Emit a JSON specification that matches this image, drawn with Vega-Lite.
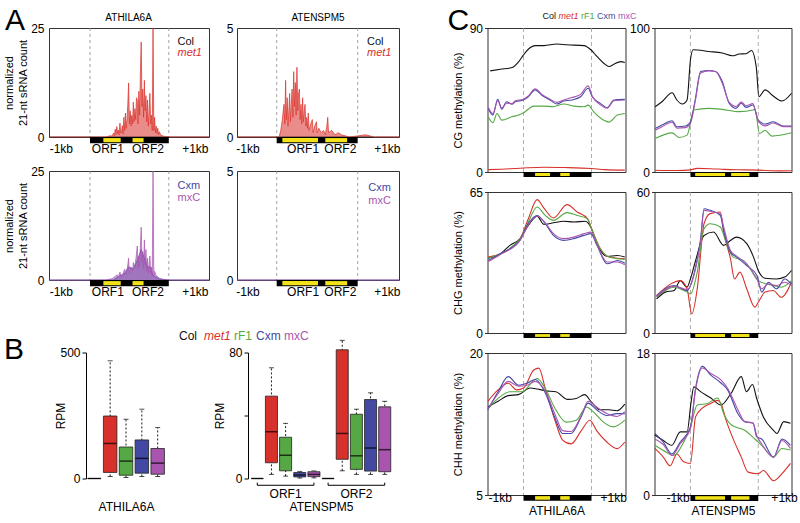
{
"$schema":"https://vega.github.io/schema/vega-lite/v6.json",
"background":"white",
"padding":{"left":3,"top":0,"right":5,"bottom":5},
"spacing":45.5,
"config":{"font":"Liberation Sans","view":{"stroke":"#333","strokeWidth":1},"axis":{"labelColor":"#000","titleColor":"#000","labelOverlap":false},"title":{"color":"#000"}},
"hconcat":[
{"vconcat":[
 {"vconcat":[
  {"hconcat":[
   {"width":160,"height":109,
    "layer":[
     {"data":{"values":[{"b":0},{"b":1}]},"mark":{"type":"rule","color":"#8a8a8a","strokeDash":[3,3],"strokeWidth":0.8},"encoding":{"x":{"field":"b","type":"quantitative"}}},
     {"data":{"values":[
{"g":"Col","x":-0.52,"v":0},{"g":"Col","x":1.51,"v":0},
{"g":"met1","x":-0.52,"v":0},{"g":"met1","x":0.2,"v":0},{"g":"met1","x":0.26,"v":0.3},{"g":"met1","x":0.28,"v":0.2},{"g":"met1","x":0.3,"v":0.9},{"g":"met1","x":0.31,"v":0.3},{"g":"met1","x":0.32,"v":1.8},{"g":"met1","x":0.33,"v":0.6},{"g":"met1","x":0.34,"v":2.4},{"g":"met1","x":0.35,"v":0.8},{"g":"met1","x":0.36,"v":1.6},{"g":"met1","x":0.37,"v":0.5},{"g":"met1","x":0.38,"v":3.2},{"g":"met1","x":0.39,"v":0.9},{"g":"met1","x":0.4,"v":1.2},{"g":"met1","x":0.41,"v":2.6},{"g":"met1","x":0.42,"v":0.7},{"g":"met1","x":0.43,"v":4.5},{"g":"met1","x":0.44,"v":1.5},{"g":"met1","x":0.45,"v":5.5},{"g":"met1","x":0.46,"v":2},{"g":"met1","x":0.47,"v":4},{"g":"met1","x":0.48,"v":7.5},{"g":"met1","x":0.49,"v":12.4},{"g":"met1","x":0.5,"v":3},{"g":"met1","x":0.51,"v":6},{"g":"met1","x":0.52,"v":2.5},{"g":"met1","x":0.53,"v":5},{"g":"met1","x":0.54,"v":3},{"g":"met1","x":0.55,"v":8},{"g":"met1","x":0.56,"v":3.5},{"g":"met1","x":0.57,"v":6.5},{"g":"met1","x":0.58,"v":4},{"g":"met1","x":0.59,"v":9},{"g":"met1","x":0.6,"v":8.5},{"g":"met1","x":0.61,"v":3},{"g":"met1","x":0.62,"v":10.5},{"g":"met1","x":0.63,"v":5},{"g":"met1","x":0.64,"v":15},{"g":"met1","x":0.65,"v":21.8},{"g":"met1","x":0.66,"v":7},{"g":"met1","x":0.67,"v":11},{"g":"met1","x":0.68,"v":4.5},{"g":"met1","x":0.69,"v":13},{"g":"met1","x":0.7,"v":6},{"g":"met1","x":0.71,"v":9.5},{"g":"met1","x":0.72,"v":3.5},{"g":"met1","x":0.73,"v":8.5},{"g":"met1","x":0.74,"v":2.5},{"g":"met1","x":0.75,"v":6},{"g":"met1","x":0.76,"v":10},{"g":"met1","x":0.77,"v":3},{"g":"met1","x":0.78,"v":5},{"g":"met1","x":0.79,"v":1.5},{"g":"met1","x":0.8,"v":25},{"g":"met1","x":0.81,"v":1.5},{"g":"met1","x":0.82,"v":4.5},{"g":"met1","x":0.83,"v":1},{"g":"met1","x":0.84,"v":2.5},{"g":"met1","x":0.85,"v":0.8},{"g":"met1","x":0.86,"v":2},{"g":"met1","x":0.87,"v":0.5},{"g":"met1","x":0.88,"v":1.2},{"g":"met1","x":0.9,"v":0.4},{"g":"met1","x":0.93,"v":0.2},{"g":"met1","x":0.97,"v":0.1},{"g":"met1","x":1,"v":0},{"g":"met1","x":1.51,"v":0}
     ]},
     "mark":{"type":"area","fillOpacity":0.55,"line":{"strokeWidth":0.7}},
     "encoding":{
      "x":{"field":"x","type":"quantitative","scale":{"domain":[-0.52,1.51],"nice":false,"zero":false},"axis":{"values":[-0.37,0.22,0.73,1.33],"labelExpr":"datum.value<0?'-1kb':datum.value>1.1?'+1kb':datum.value<0.5?'ORF1':'ORF2'","domain":false,"ticks":false,"grid":false,"labelFontSize":12,"labelPadding":6,"labelFlush":false,"labelOverlap":false,"title":null}},
      "y":{"field":"v","type":"quantitative","stack":null,"scale":{"domain":[0,25],"nice":false},"axis":{"values":[0,25],"domain":false,"ticks":false,"grid":false,"labelFontSize":12,"labelPadding":5,"labelFlush":false,"title":["normalized","21-nt sRNA count"],"titleFontSize":11,"titleFontWeight":"normal","titlePadding":2,"titleLineHeight":14}},
      "color":{"field":"g","type":"nominal","legend":null,"scale":{"domain":["Col","met1","rF1","Cxm","mxC"],"range":["#111111","#d8302a","#55a844","#4349a3","#a955b0"]}}}},
     {"data":{"values":[{"x":0,"x2":1,"t":"el"},{"x":0.17,"x2":0.39,"t":"orf"},{"x":0.54,"x2":0.68,"t":"orf"}]},"transform":[{"filter":"datum.t=='el'"}],"mark":{"type":"rect","color":"#000"},"encoding":{"x":{"field":"x","type":"quantitative"},"x2":{"field":"x2"},"y":{"datum":-1.45},"y2":{"datum":0}}},
     {"data":{"values":[{"x":0,"x2":1,"t":"el"},{"x":0.17,"x2":0.39,"t":"orf"},{"x":0.54,"x2":0.68,"t":"orf"}]},"transform":[{"filter":"datum.t=='orf'"}],"mark":{"type":"rect","color":"#f2e21a"},"encoding":{"x":{"field":"x","type":"quantitative"},"x2":{"field":"x2"},"y":{"datum":-1.2},"y2":{"datum":-0.25}}},
     {"data":{"values":[{}]},"mark":{"type":"text","text":"ATHILA6A","align":"center","baseline":"middle","fontSize":10,"color":"#000"},"encoding":{"x":{"datum":0.49},"y":{"datum":27.3}}},
     {"data":{"values":[{}]},"mark":{"type":"text","text":"Col","align":"left","baseline":"middle","fontSize":11,"color":"#111"},"encoding":{"x":{"datum":1.11},"y":{"datum":21.9}}},
     {"data":{"values":[{}]},"mark":{"type":"text","text":"met1","align":"left","baseline":"middle","fontSize":11,"fontStyle":"italic","color":"#d8302a"},"encoding":{"x":{"datum":1.11},"y":{"datum":19.2}}},
     {"data":{"values":[{}]},"mark":{"type":"rule","strokeOpacity":0,"color":"#fff"},"encoding":{"x":{"datum":-0.95},"y":{"datum":25},"y2":{"datum":31.1}}},
     {"data":{"values":[{}]},"mark":{"type":"text","text":"A","align":"center","baseline":"alphabetic","fontSize":30,"color":"#000"},"encoding":{"x":{"datum":-0.95},"y":{"datum":24.5}}}
    ]},
   {"width":162,"height":109,
    "layer":[
     {"data":{"values":[{"b":0},{"b":1}]},"mark":{"type":"rule","color":"#8a8a8a","strokeDash":[3,3],"strokeWidth":0.8},"encoding":{"x":{"field":"b","type":"quantitative"}}},
     {"data":{"values":[
{"g":"Col","x":-0.49,"v":0},{"g":"Col","x":1.51,"v":0},
{"g":"met1","x":-0.49,"v":0},{"g":"met1","x":0.03,"v":0},{"g":"met1","x":0.05,"v":0.3},{"g":"met1","x":0.07,"v":0.8},{"g":"met1","x":0.09,"v":1.5},{"g":"met1","x":0.1,"v":0.6},{"g":"met1","x":0.11,"v":2.6},{"g":"met1","x":0.12,"v":0.8},{"g":"met1","x":0.13,"v":1.8},{"g":"met1","x":0.14,"v":0.5},{"g":"met1","x":0.15,"v":1.2},{"g":"met1","x":0.16,"v":2},{"g":"met1","x":0.17,"v":0.7},{"g":"met1","x":0.18,"v":1.5},{"g":"met1","x":0.19,"v":2.2},{"g":"met1","x":0.2,"v":0.9},{"g":"met1","x":0.21,"v":3},{"g":"met1","x":0.22,"v":1.4},{"g":"met1","x":0.23,"v":2.5},{"g":"met1","x":0.24,"v":1},{"g":"met1","x":0.25,"v":3.2},{"g":"met1","x":0.26,"v":1.2},{"g":"met1","x":0.27,"v":2},{"g":"met1","x":0.28,"v":2.2},{"g":"met1","x":0.29,"v":0.8},{"g":"met1","x":0.3,"v":1.5},{"g":"met1","x":0.31,"v":0.6},{"g":"met1","x":0.32,"v":1.8},{"g":"met1","x":0.33,"v":0.7},{"g":"met1","x":0.34,"v":1.2},{"g":"met1","x":0.35,"v":1.5},{"g":"met1","x":0.36,"v":0.5},{"g":"met1","x":0.37,"v":0.9},{"g":"met1","x":0.38,"v":0.4},{"g":"met1","x":0.39,"v":1.1},{"g":"met1","x":0.4,"v":0.3},{"g":"met1","x":0.42,"v":0.6},{"g":"met1","x":0.44,"v":0.8},{"g":"met1","x":0.45,"v":0.2},{"g":"met1","x":0.47,"v":0.5},{"g":"met1","x":0.49,"v":0.7},{"g":"met1","x":0.5,"v":0.2},{"g":"met1","x":0.52,"v":0.4},{"g":"met1","x":0.55,"v":0.2},{"g":"met1","x":0.58,"v":0.3},{"g":"met1","x":0.6,"v":0.1},{"g":"met1","x":0.62,"v":0.5},{"g":"met1","x":0.63,"v":0.9},{"g":"met1","x":0.64,"v":0.2},{"g":"met1","x":0.68,"v":0.3},{"g":"met1","x":0.72,"v":0.1},{"g":"met1","x":0.76,"v":0.2},{"g":"met1","x":0.8,"v":0.1},{"g":"met1","x":0.85,"v":0.05},{"g":"met1","x":0.9,"v":0},{"g":"met1","x":1,"v":0.05},{"g":"met1","x":1.1,"v":0.1},{"g":"met1","x":1.2,"v":0},{"g":"met1","x":1.51,"v":0}
     ]},
     "mark":{"type":"area","fillOpacity":0.55,"line":{"strokeWidth":0.7}},
     "encoding":{
      "x":{"field":"x","type":"quantitative","scale":{"domain":[-0.49,1.51],"nice":false,"zero":false},"axis":{"values":[-0.36,0.32,0.78,1.36],"labelExpr":"datum.value<0?'-1kb':datum.value>1.1?'+1kb':datum.value<0.5?'ORF1':'ORF2'","domain":false,"ticks":false,"grid":false,"labelFontSize":12,"labelPadding":6,"labelFlush":false,"labelOverlap":false,"title":null}},
      "y":{"field":"v","type":"quantitative","stack":null,"scale":{"domain":[0,5],"nice":false},"axis":{"values":[0,5],"domain":false,"ticks":false,"grid":false,"labelFontSize":12,"labelPadding":4,"labelFlush":false,"title":null}},
      "color":{"field":"g","type":"nominal","legend":null,"scale":{"domain":["Col","met1","rF1","Cxm","mxC"],"range":["#111111","#d8302a","#55a844","#4349a3","#a955b0"]}}}},
     {"data":{"values":[{"x":0,"x2":1,"t":"el"},{"x":0.07,"x2":0.51,"t":"orf"},{"x":0.6,"x2":0.87,"t":"orf"}]},"transform":[{"filter":"datum.t=='el'"}],"mark":{"type":"rect","color":"#000"},"encoding":{"x":{"field":"x","type":"quantitative"},"x2":{"field":"x2"},"y":{"datum":-0.29},"y2":{"datum":0}}},
     {"data":{"values":[{"x":0,"x2":1,"t":"el"},{"x":0.07,"x2":0.51,"t":"orf"},{"x":0.6,"x2":0.87,"t":"orf"}]},"transform":[{"filter":"datum.t=='orf'"}],"mark":{"type":"rect","color":"#f2e21a"},"encoding":{"x":{"field":"x","type":"quantitative"},"x2":{"field":"x2"},"y":{"datum":-0.24},"y2":{"datum":-0.05}}},
     {"data":{"values":[{}]},"mark":{"type":"text","text":"ATENSPM5","align":"center","baseline":"middle","fontSize":10,"color":"#000"},"encoding":{"x":{"datum":0.51},"y":{"datum":5.46}}},
     {"data":{"values":[{}]},"mark":{"type":"text","text":"Col","align":"left","baseline":"middle","fontSize":11,"color":"#111"},"encoding":{"x":{"datum":1.115},"y":{"datum":4.37}}},
     {"data":{"values":[{}]},"mark":{"type":"text","text":"met1","align":"left","baseline":"middle","fontSize":11,"fontStyle":"italic","color":"#d8302a"},"encoding":{"x":{"datum":1.115},"y":{"datum":3.85}}}
    ]}
  ],"spacing":28,"bounds":"flush"},
  {"hconcat":[
   {"width":160,"height":109,
    "layer":[
     {"data":{"values":[{"b":0},{"b":1}]},"mark":{"type":"rule","color":"#8a8a8a","strokeDash":[3,3],"strokeWidth":0.8},"encoding":{"x":{"field":"b","type":"quantitative"}}},
     {"data":{"values":[
{"g":"Cxm","x":-0.52,"v":0},{"g":"Cxm","x":0.3,"v":0},{"g":"Cxm","x":0.38,"v":1},{"g":"Cxm","x":0.44,"v":1.5},{"g":"Cxm","x":0.49,"v":3},{"g":"Cxm","x":0.55,"v":2.5},{"g":"Cxm","x":0.6,"v":4.5},{"g":"Cxm","x":0.65,"v":7},{"g":"Cxm","x":0.69,"v":5},{"g":"Cxm","x":0.73,"v":3},{"g":"Cxm","x":0.76,"v":3},{"g":"Cxm","x":0.8,"v":1},{"g":"Cxm","x":0.88,"v":0.2},{"g":"Cxm","x":1,"v":0},{"g":"Cxm","x":1.51,"v":0},
{"g":"mxC","x":-0.52,"v":0},{"g":"mxC","x":0.2,"v":0},{"g":"mxC","x":0.28,"v":0.3},{"g":"mxC","x":0.32,"v":0.8},{"g":"mxC","x":0.34,"v":1.2},{"g":"mxC","x":0.36,"v":0.7},{"g":"mxC","x":0.38,"v":1.8},{"g":"mxC","x":0.4,"v":0.6},{"g":"mxC","x":0.42,"v":1.5},{"g":"mxC","x":0.44,"v":2.5},{"g":"mxC","x":0.46,"v":1.2},{"g":"mxC","x":0.48,"v":3.5},{"g":"mxC","x":0.49,"v":5},{"g":"mxC","x":0.5,"v":1.5},{"g":"mxC","x":0.52,"v":3},{"g":"mxC","x":0.54,"v":2},{"g":"mxC","x":0.55,"v":4},{"g":"mxC","x":0.57,"v":3},{"g":"mxC","x":0.59,"v":6},{"g":"mxC","x":0.6,"v":7.8},{"g":"mxC","x":0.61,"v":2.5},{"g":"mxC","x":0.62,"v":5.5},{"g":"mxC","x":0.63,"v":3},{"g":"mxC","x":0.64,"v":8},{"g":"mxC","x":0.65,"v":12.1},{"g":"mxC","x":0.66,"v":4},{"g":"mxC","x":0.67,"v":6.5},{"g":"mxC","x":0.68,"v":2.5},{"g":"mxC","x":0.69,"v":9.2},{"g":"mxC","x":0.7,"v":3.5},{"g":"mxC","x":0.71,"v":7},{"g":"mxC","x":0.72,"v":2},{"g":"mxC","x":0.73,"v":5},{"g":"mxC","x":0.74,"v":1.5},{"g":"mxC","x":0.75,"v":3.5},{"g":"mxC","x":0.76,"v":5.5},{"g":"mxC","x":0.77,"v":1.5},{"g":"mxC","x":0.78,"v":3},{"g":"mxC","x":0.79,"v":1},{"g":"mxC","x":0.8,"v":25},{"g":"mxC","x":0.81,"v":1},{"g":"mxC","x":0.82,"v":2},{"g":"mxC","x":0.84,"v":1},{"g":"mxC","x":0.86,"v":0.8},{"g":"mxC","x":0.88,"v":0.4},{"g":"mxC","x":0.92,"v":0.2},{"g":"mxC","x":1,"v":0},{"g":"mxC","x":1.51,"v":0}
     ]},
     "mark":{"type":"area","fillOpacity":0.55,"line":{"strokeWidth":0.7}},
     "encoding":{
      "x":{"field":"x","type":"quantitative","scale":{"domain":[-0.52,1.51],"nice":false,"zero":false},"axis":{"values":[-0.37,0.22,0.73,1.33],"labelExpr":"datum.value<0?'-1kb':datum.value>1.1?'+1kb':datum.value<0.5?'ORF1':'ORF2'","domain":false,"ticks":false,"grid":false,"labelFontSize":12,"labelPadding":6,"labelFlush":false,"labelOverlap":false,"title":null}},
      "y":{"field":"v","type":"quantitative","stack":null,"scale":{"domain":[0,25],"nice":false},"axis":{"values":[0,25],"domain":false,"ticks":false,"grid":false,"labelFontSize":12,"labelPadding":5,"labelFlush":false,"title":["normalized","21-nt sRNA count"],"titleFontSize":11,"titleFontWeight":"normal","titlePadding":2,"titleLineHeight":14}},
      "color":{"field":"g","type":"nominal","legend":null,"scale":{"domain":["Col","met1","rF1","Cxm","mxC"],"range":["#111111","#d8302a","#55a844","#4349a3","#a955b0"]}}}},
     {"data":{"values":[{"x":0,"x2":1,"t":"el"},{"x":0.17,"x2":0.39,"t":"orf"},{"x":0.54,"x2":0.68,"t":"orf"}]},"transform":[{"filter":"datum.t=='el'"}],"mark":{"type":"rect","color":"#000"},"encoding":{"x":{"field":"x","type":"quantitative"},"x2":{"field":"x2"},"y":{"datum":-1.45},"y2":{"datum":0}}},
     {"data":{"values":[{"x":0,"x2":1,"t":"el"},{"x":0.17,"x2":0.39,"t":"orf"},{"x":0.54,"x2":0.68,"t":"orf"}]},"transform":[{"filter":"datum.t=='orf'"}],"mark":{"type":"rect","color":"#f2e21a"},"encoding":{"x":{"field":"x","type":"quantitative"},"x2":{"field":"x2"},"y":{"datum":-1.2},"y2":{"datum":-0.25}}},
     {"data":{"values":[{}]},"mark":{"type":"text","text":"Cxm","align":"left","baseline":"middle","fontSize":11,"color":"#4349a3"},"encoding":{"x":{"datum":1.11},"y":{"datum":21.6}}},
     {"data":{"values":[{}]},"mark":{"type":"text","text":"mxC","align":"left","baseline":"middle","fontSize":11,"color":"#a955b0"},"encoding":{"x":{"datum":1.11},"y":{"datum":18.7}}}
    ]},
   {"width":162,"height":109,
    "layer":[
     {"data":{"values":[{"b":0},{"b":1}]},"mark":{"type":"rule","color":"#8a8a8a","strokeDash":[3,3],"strokeWidth":0.8},"encoding":{"x":{"field":"b","type":"quantitative"}}},
     {"data":{"values":[{"g":"Cxm","x":-0.49,"v":0},{"g":"Cxm","x":1.51,"v":0},{"g":"mxC","x":-0.49,"v":0},{"g":"mxC","x":1.51,"v":0}]},
     "mark":{"type":"area","fillOpacity":0.55,"line":{"strokeWidth":0.7}},
     "encoding":{
      "x":{"field":"x","type":"quantitative","scale":{"domain":[-0.49,1.51],"nice":false,"zero":false},"axis":{"values":[-0.36,0.32,0.78,1.36],"labelExpr":"datum.value<0?'-1kb':datum.value>1.1?'+1kb':datum.value<0.5?'ORF1':'ORF2'","domain":false,"ticks":false,"grid":false,"labelFontSize":12,"labelPadding":6,"labelFlush":false,"labelOverlap":false,"title":null}},
      "y":{"field":"v","type":"quantitative","stack":null,"scale":{"domain":[0,5],"nice":false},"axis":{"values":[0,5],"domain":false,"ticks":false,"grid":false,"labelFontSize":12,"labelPadding":4,"labelFlush":false,"title":null}},
      "color":{"field":"g","type":"nominal","legend":null,"scale":{"domain":["Col","met1","rF1","Cxm","mxC"],"range":["#111111","#d8302a","#55a844","#4349a3","#a955b0"]}}}},
     {"data":{"values":[{"x":0,"x2":1,"t":"el"},{"x":0.07,"x2":0.51,"t":"orf"},{"x":0.6,"x2":0.87,"t":"orf"}]},"transform":[{"filter":"datum.t=='el'"}],"mark":{"type":"rect","color":"#000"},"encoding":{"x":{"field":"x","type":"quantitative"},"x2":{"field":"x2"},"y":{"datum":-0.29},"y2":{"datum":0}}},
     {"data":{"values":[{"x":0,"x2":1,"t":"el"},{"x":0.07,"x2":0.51,"t":"orf"},{"x":0.6,"x2":0.87,"t":"orf"}]},"transform":[{"filter":"datum.t=='orf'"}],"mark":{"type":"rect","color":"#f2e21a"},"encoding":{"x":{"field":"x","type":"quantitative"},"x2":{"field":"x2"},"y":{"datum":-0.24},"y2":{"datum":-0.05}}},
     {"data":{"values":[{}]},"mark":{"type":"text","text":"Cxm","align":"left","baseline":"middle","fontSize":11,"color":"#4349a3"},"encoding":{"x":{"datum":1.13},"y":{"datum":4.22}}},
     {"data":{"values":[{}]},"mark":{"type":"text","text":"mxC","align":"left","baseline":"middle","fontSize":11,"color":"#a955b0"},"encoding":{"x":{"datum":1.13},"y":{"datum":3.64}}}
    ]}
  ],"spacing":28,"bounds":"flush"}
 ],"spacing":9},
 {"hconcat":[
  {"width":117,"height":126,"view":{"stroke":null},
   "resolve":{"scale":{"x":"independent"}},
   "layer":[
    {"data":{"values":[{"c":"Col","g":"Col","lo":0,"q1":0,"md":0,"q3":0,"hi":0},{"c":"met1","g":"met1","lo":8,"q1":24,"md":139,"q3":248,"hi":467},{"c":"rF1","g":"rF1","lo":4,"q1":13,"md":69,"q3":125,"hi":235},{"c":"Cxm","g":"Cxm","lo":8,"q1":21,"md":80,"q3":153,"hi":275},{"c":"mxC","g":"mxC","lo":8,"q1":17,"md":61,"q3":119,"hi":202}]},
     "layer":[
      {"mark":{"type":"rule","strokeDash":[2,2],"color":"#000","strokeWidth":0.9},"encoding":{
        "x":{"field":"c","type":"nominal","scale":{"domain":["Col","met1","rF1","Cxm","mxC"],"range":[37,117],"paddingInner":0.15,"paddingOuter":0.1},"axis":{"labels":false,"ticks":false,"domain":false,"grid":false,"title":"ATHILA6A","titleFontSize":12,"titleFontWeight":"normal","titlePadding":23}},
        "y":{"field":"lo","type":"quantitative","scale":{"domain":[0,500],"nice":false},"axis":{"values":[0,500],"domain":true,"domainColor":"#000","ticks":true,"tickSize":4,"tickColor":"#000","grid":false,"labelFontSize":12,"labelPadding":2,"labelFlush":false,"labelOverlap":false,"offset":-37,"title":"RPM","titleFontSize":12,"titleFontWeight":"normal","titlePadding":-8}},
        "y2":{"field":"hi"}}},
      {"mark":{"type":"tick","size":5,"thickness":1,"color":"#000"},"encoding":{"x":{"field":"c","type":"nominal"},"y":{"field":"lo","type":"quantitative"}}},
      {"mark":{"type":"tick","size":5,"thickness":1,"color":"#000"},"encoding":{"x":{"field":"c","type":"nominal"},"y":{"field":"hi","type":"quantitative"}}},
      {"mark":{"type":"bar","stroke":"#222","strokeWidth":0.8},"encoding":{"x":{"field":"c","type":"nominal"},"y":{"field":"q1","type":"quantitative"},"y2":{"field":"q3"},"color":{"field":"g","type":"nominal","legend":null,"scale":{"domain":["Col","met1","rF1","Cxm","mxC"],"range":["#111111","#d8302a","#55a844","#4349a3","#a955b0"]}}}},
      {"mark":{"type":"tick","size":13,"thickness":1.5,"color":"#000"},"encoding":{"x":{"field":"c","type":"nominal"},"y":{"field":"md","type":"quantitative"}}}
     ]},
    {"data":{"values":[{}]},
     "layer":[
      {"mark":{"type":"text","text":"B","align":"center","baseline":"alphabetic","fontSize":30,"color":"#000"},"encoding":{"x":{"datum":-0.299,"type":"quantitative","scale":{"domain":[0,1],"nice":false,"zero":false},"axis":null},"y":{"datum":473}}},
      {"mark":{"type":"text","text":"Col","align":"left","baseline":"middle","fontSize":12,"color":"#111"},"encoding":{"x":{"datum":1.111,"type":"quantitative","axis":null},"y":{"datum":564.7}}},
      {"mark":{"type":"text","text":"met1","align":"left","baseline":"middle","fontSize":12,"fontStyle":"italic","color":"#d8302a"},"encoding":{"x":{"datum":1.325,"type":"quantitative","axis":null},"y":{"datum":564.7}}},
      {"mark":{"type":"text","text":"rF1","align":"left","baseline":"middle","fontSize":12,"color":"#55a844"},"encoding":{"x":{"datum":1.581,"type":"quantitative","axis":null},"y":{"datum":564.7}}},
      {"mark":{"type":"text","text":"Cxm","align":"left","baseline":"middle","fontSize":12,"color":"#4349a3"},"encoding":{"x":{"datum":1.769,"type":"quantitative","axis":null},"y":{"datum":564.7}}},
      {"mark":{"type":"text","text":"mxC","align":"left","baseline":"middle","fontSize":12,"color":"#a955b0"},"encoding":{"x":{"datum":2.009,"type":"quantitative","axis":null},"y":{"datum":564.7}}}
     ]}
   ]},
  {"width":146,"height":126,"view":{"stroke":null},
   "layer":[
    {"data":{"values":[{"c":"ORF1 Col","g":"Col","lo":0,"q1":0,"md":0,"q3":0,"hi":0},{"c":"ORF1 met1","g":"met1","lo":2.6,"q1":10,"md":29.7,"q3":52.3,"hi":70.3},{"c":"ORF1 rF1","g":"rF1","lo":1.5,"q1":4.9,"md":14.8,"q3":26.2,"hi":35},{"c":"ORF1 Cxm","g":"Cxm","lo":0.3,"q1":1,"md":2.2,"q3":3.8,"hi":4.5},{"c":"ORF1 mxC","g":"mxC","lo":0.4,"q1":1.2,"md":2.6,"q3":4.3,"hi":4.8},{"c":"ORF2 Col","g":"Col","lo":0,"q1":0,"md":0,"q3":0,"hi":0},{"c":"ORF2 met1","g":"met1","lo":4.9,"q1":12.2,"md":28.6,"q3":81.7,"hi":87.7},{"c":"ORF2 rF1","g":"rF1","lo":2.6,"q1":5.8,"md":14.4,"q3":40.8,"hi":44},{"c":"ORF2 Cxm","g":"Cxm","lo":2.6,"q1":4.7,"md":19.4,"q3":50.1,"hi":54.4},{"c":"ORF2 mxC","g":"mxC","lo":2.6,"q1":4.3,"md":18.3,"q3":45.5,"hi":49}]},
     "layer":[
      {"mark":{"type":"rule","strokeDash":[2,2],"color":"#000","strokeWidth":0.9},"encoding":{
        "x":{"field":"c","type":"nominal","scale":{"domain":["ORF1 Col","ORF1 met1","ORF1 rF1","ORF1 Cxm","ORF1 mxC","ORF2 Col","ORF2 met1","ORF2 rF1","ORF2 Cxm","ORF2 mxC"],"paddingInner":0.15,"paddingOuter":0.23},"axis":{"labels":false,"ticks":false,"domain":false,"grid":false,"title":"ATENSPM5","titleFontSize":12,"titleFontWeight":"normal","titlePadding":23}},
        "y":{"field":"lo","type":"quantitative","scale":{"domain":[0,80],"nice":false},"axis":{"values":[0,20,40,60,80],"labelExpr":"datum.value==0||datum.value==80?datum.label:''","domain":true,"domainColor":"#000","ticks":true,"tickSize":4,"tickColor":"#000","grid":false,"labelFontSize":12,"labelPadding":2,"labelFlush":false,"labelOverlap":false,"title":"RPM","titleFontSize":12,"titleFontWeight":"normal","titlePadding":2}},
        "y2":{"field":"hi"}}},
      {"mark":{"type":"tick","size":5,"thickness":1,"color":"#000"},"encoding":{"x":{"field":"c","type":"nominal"},"y":{"field":"lo","type":"quantitative"}}},
      {"mark":{"type":"tick","size":5,"thickness":1,"color":"#000"},"encoding":{"x":{"field":"c","type":"nominal"},"y":{"field":"hi","type":"quantitative"}}},
      {"mark":{"type":"bar","stroke":"#222","strokeWidth":0.8},"encoding":{"x":{"field":"c","type":"nominal"},"y":{"field":"q1","type":"quantitative"},"y2":{"field":"q3"},"color":{"field":"g","type":"nominal","legend":null,"scale":{"domain":["Col","met1","rF1","Cxm","mxC"],"range":["#111111","#d8302a","#55a844","#4349a3","#a955b0"]}}}},
      {"mark":{"type":"tick","size":12,"thickness":1.5,"color":"#000"},"encoding":{"x":{"field":"c","type":"nominal"},"y":{"field":"md","type":"quantitative"}}}
     ]},
    {"data":{"values":[{"c":"ORF1 Col","c2":"ORF1 mxC","m":"ORF1 rF1","lab":"ORF1"},{"c":"ORF2 Col","c2":"ORF2 mxC","m":"ORF2 rF1","lab":"ORF2"}]},
     "layer":[
      {"mark":{"type":"rule","color":"#000","strokeWidth":1},"encoding":{"x":{"field":"c","type":"nominal"},"x2":{"field":"c2"},"y":{"datum":-4.3}}},
      {"mark":{"type":"rule","color":"#000","strokeWidth":1},"encoding":{"x":{"field":"c","type":"nominal"},"y":{"datum":-4.3},"y2":{"datum":-2.6}}},
      {"mark":{"type":"rule","color":"#000","strokeWidth":1},"encoding":{"x":{"field":"c2","type":"nominal"},"y":{"datum":-4.3},"y2":{"datum":-2.6}}},
      {"mark":{"type":"text","fontSize":12,"baseline":"middle","color":"#000"},"encoding":{"x":{"field":"m","type":"nominal"},"y":{"datum":-10.1},"text":{"field":"lab"}}}
     ]}
   ]}
 ],"spacing":82,"bounds":"flush"}
],"spacing":31.5},
{"vconcat":[
 {"hconcat":[
  {"width":138,"height":144,
   "layer":[
    {"data":{"values":[{"b":0},{"b":1}]},"mark":{"type":"rule","color":"#999","strokeDash":[4,3],"strokeWidth":0.8},"encoding":{"x":{"field":"b","type":"quantitative","axis":null}}},
    {"data":{"values":[
{"g":"Col","x":-0.49,"v":63.2},{"g":"Col","x":-0.34,"v":64.2},{"g":"Col","x":-0.17,"v":65.3},{"g":"Col","x":-0.07,"v":69},{"g":"Col","x":0,"v":73.2},{"g":"Col","x":0.1,"v":77.8},{"g":"Col","x":0.17,"v":79},{"g":"Col","x":0.3,"v":79},{"g":"Col","x":0.49,"v":80},{"g":"Col","x":0.64,"v":79.5},{"g":"Col","x":0.89,"v":79},{"g":"Col","x":0.99,"v":76.4},{"g":"Col","x":1.08,"v":72.2},{"g":"Col","x":1.18,"v":68},{"g":"Col","x":1.26,"v":65.9},{"g":"Col","x":1.33,"v":67.4},{"g":"Col","x":1.43,"v":69},{"g":"Col","x":1.49,"v":68.4},
{"g":"met1","x":-0.52,"v":1.5},{"g":"met1","x":-0.2,"v":2},{"g":"met1","x":0,"v":2.5},{"g":"met1","x":0.3,"v":3},{"g":"met1","x":0.6,"v":2.8},{"g":"met1","x":1,"v":2.2},{"g":"met1","x":1.2,"v":1.5},{"g":"met1","x":1.49,"v":1.2},
{"g":"rF1","x":-0.52,"v":34.5},{"g":"rF1","x":-0.45,"v":30.8},{"g":"rF1","x":-0.39,"v":36.6},{"g":"rF1","x":-0.32,"v":32.4},{"g":"rF1","x":-0.17,"v":34.5},{"g":"rF1","x":-0.07,"v":35.6},{"g":"rF1","x":0,"v":37},{"g":"rF1","x":0.15,"v":41.2},{"g":"rF1","x":0.3,"v":41.2},{"g":"rF1","x":0.44,"v":40.8},{"g":"rF1","x":0.59,"v":42.5},{"g":"rF1","x":0.74,"v":41.2},{"g":"rF1","x":0.89,"v":40.8},{"g":"rF1","x":0.95,"v":41.8},{"g":"rF1","x":1.03,"v":37.7},{"g":"rF1","x":1.18,"v":32.4},{"g":"rF1","x":1.26,"v":31.2},{"g":"rF1","x":1.38,"v":35.6},{"g":"rF1","x":1.49,"v":36.6},
{"g":"Cxm","x":-0.52,"v":39.7},{"g":"Cxm","x":-0.45,"v":35.6},{"g":"Cxm","x":-0.38,"v":45.4},{"g":"Cxm","x":-0.32,"v":39.3},{"g":"Cxm","x":-0.25,"v":43.9},{"g":"Cxm","x":-0.17,"v":42.3},{"g":"Cxm","x":-0.12,"v":43.9},{"g":"Cxm","x":0,"v":45},{"g":"Cxm","x":0.07,"v":47},{"g":"Cxm","x":0.17,"v":51.3},{"g":"Cxm","x":0.27,"v":48},{"g":"Cxm","x":0.39,"v":45},{"g":"Cxm","x":0.49,"v":42.5},{"g":"Cxm","x":0.59,"v":44.4},{"g":"Cxm","x":0.71,"v":45},{"g":"Cxm","x":0.84,"v":47},{"g":"Cxm","x":0.95,"v":52.3},{"g":"Cxm","x":1.01,"v":47},{"g":"Cxm","x":1.13,"v":42.9},{"g":"Cxm","x":1.23,"v":40.2},{"g":"Cxm","x":1.33,"v":45},{"g":"Cxm","x":1.49,"v":45.4},
{"g":"mxC","x":-0.52,"v":40.5},{"g":"mxC","x":-0.45,"v":36.5},{"g":"mxC","x":-0.38,"v":44.5},{"g":"mxC","x":-0.32,"v":40},{"g":"mxC","x":-0.25,"v":43},{"g":"mxC","x":-0.17,"v":42.8},{"g":"mxC","x":-0.12,"v":44.5},{"g":"mxC","x":0,"v":45.5},{"g":"mxC","x":0.07,"v":47.5},{"g":"mxC","x":0.17,"v":52},{"g":"mxC","x":0.27,"v":48.5},{"g":"mxC","x":0.39,"v":45.5},{"g":"mxC","x":0.49,"v":43.5},{"g":"mxC","x":0.59,"v":45},{"g":"mxC","x":0.71,"v":46.5},{"g":"mxC","x":0.84,"v":48.5},{"g":"mxC","x":0.95,"v":53.8},{"g":"mxC","x":1.01,"v":47.5},{"g":"mxC","x":1.13,"v":42},{"g":"mxC","x":1.23,"v":39.8},{"g":"mxC","x":1.33,"v":44.5},{"g":"mxC","x":1.49,"v":45}
    ]},
    "mark":{"type":"line","interpolate":"monotone","strokeWidth":1.1},
    "encoding":{
     "x":{"field":"x","type":"quantitative","scale":{"domain":[-0.53,1.5],"nice":false,"zero":false},"axis":null},
     "y":{"field":"v","type":"quantitative","scale":{"domain":[0,90],"nice":false},"axis":{"values":[0,90],"domain":false,"ticks":true,"tickSize":3,"tickColor":"#333","grid":false,"labelFontSize":12,"labelPadding":2,"labelFlush":false,"labelOverlap":false,"title":"CG methylation (%)","titleFontSize":11,"titleFontWeight":"normal","titlePadding":6}},
     "color":{"field":"g","type":"nominal","legend":null,"scale":{"domain":["Col","met1","rF1","Cxm","mxC"],"range":["#111111","#d8302a","#55a844","#4349a3","#a955b0"]}}}},
    {"data":{"values":[{"x":0,"x2":1,"t":"el"},{"x":0.17,"x2":0.39,"t":"orf"},{"x":0.54,"x2":0.68,"t":"orf"}]},"transform":[{"filter":"datum.t=='el'"}],"mark":{"type":"rect","color":"#000"},"encoding":{"x":{"field":"x","type":"quantitative","axis":null},"x2":{"field":"x2"},"y":{"datum":-3.1},"y2":{"datum":0}}},
    {"data":{"values":[{"x":0,"x2":1,"t":"el"},{"x":0.17,"x2":0.39,"t":"orf"},{"x":0.54,"x2":0.68,"t":"orf"}]},"transform":[{"filter":"datum.t=='orf'"}],"mark":{"type":"rect","color":"#f2e21a"},"encoding":{"x":{"field":"x","type":"quantitative","axis":null},"x2":{"field":"x2"},"y":{"datum":-2.5},"y2":{"datum":-0.6}}},
    {"data":{"values":[{}]},"mark":{"type":"text","text":"Col","align":"left","baseline":"middle","fontSize":9,"color":"#111"},"encoding":{"x":{"datum":0.279,"axis":null},"y":{"datum":97.5}}},
    {"data":{"values":[{}]},"mark":{"type":"text","text":"met1","align":"left","baseline":"middle","fontSize":9,"fontStyle":"italic","color":"#d8302a"},"encoding":{"x":{"datum":0.514,"axis":null},"y":{"datum":97.5}}},
    {"data":{"values":[{}]},"mark":{"type":"text","text":"rF1","align":"left","baseline":"middle","fontSize":9,"color":"#55a844"},"encoding":{"x":{"datum":0.845,"axis":null},"y":{"datum":97.5}}},
    {"data":{"values":[{}]},"mark":{"type":"text","text":"Cxm","align":"left","baseline":"middle","fontSize":9,"color":"#4349a3"},"encoding":{"x":{"datum":1.08,"axis":null},"y":{"datum":97.5}}},
    {"data":{"values":[{}]},"mark":{"type":"text","text":"mxC","align":"left","baseline":"middle","fontSize":9,"color":"#a955b0"},"encoding":{"x":{"datum":1.389,"axis":null},"y":{"datum":97.5}}},
    {"data":{"values":[{}]},"mark":{"type":"text","text":"C","align":"center","baseline":"alphabetic","fontSize":30,"color":"#000"},"encoding":{"x":{"datum":-0.958,"axis":null},"y":{"datum":88.75}}}
   ]},
  {"width":137,"height":144,
   "layer":[
    {"data":{"values":[{"b":0},{"b":1}]},"mark":{"type":"rule","color":"#999","strokeDash":[4,3],"strokeWidth":0.8},"encoding":{"x":{"field":"b","type":"quantitative","axis":null}}},
    {"data":{"values":[
{"g":"Col","x":-0.52,"v":45.3},{"g":"Col","x":-0.42,"v":48.8},{"g":"Col","x":-0.27,"v":55},{"g":"Col","x":-0.2,"v":50},{"g":"Col","x":-0.12,"v":47.2},{"g":"Col","x":-0.05,"v":50},{"g":"Col","x":0,"v":77.9},{"g":"Col","x":0.04,"v":84.9},{"g":"Col","x":0.27,"v":83.7},{"g":"Col","x":0.47,"v":82.6},{"g":"Col","x":0.62,"v":80.7},{"g":"Col","x":0.72,"v":81.9},{"g":"Col","x":0.82,"v":82.1},{"g":"Col","x":0.9,"v":84.4},{"g":"Col","x":0.97,"v":73},{"g":"Col","x":1.01,"v":52.3},{"g":"Col","x":1.1,"v":57},{"g":"Col","x":1.22,"v":52.8},{"g":"Col","x":1.35,"v":49.3},{"g":"Col","x":1.49,"v":54.7},
{"g":"met1","x":-0.52,"v":1.2},{"g":"met1","x":-0.2,"v":1},{"g":"met1","x":0,"v":1.5},{"g":"met1","x":0.1,"v":2.5},{"g":"met1","x":0.3,"v":2.3},{"g":"met1","x":0.5,"v":1.8},{"g":"met1","x":0.8,"v":1.5},{"g":"met1","x":1,"v":1.3},{"g":"met1","x":1.3,"v":0.8},{"g":"met1","x":1.49,"v":0.9},
{"g":"rF1","x":-0.52,"v":23.3},{"g":"rF1","x":-0.27,"v":27.2},{"g":"rF1","x":-0.17,"v":24},{"g":"rF1","x":-0.05,"v":25.6},{"g":"rF1","x":0.05,"v":43},{"g":"rF1","x":0.27,"v":44.2},{"g":"rF1","x":0.47,"v":43.5},{"g":"rF1","x":0.72,"v":41.9},{"g":"rF1","x":0.92,"v":43},{"g":"rF1","x":0.95,"v":43.5},{"g":"rF1","x":1.02,"v":26.7},{"g":"rF1","x":1.1,"v":29},{"g":"rF1","x":1.2,"v":24.9},{"g":"rF1","x":1.49,"v":27.2},
{"g":"Cxm","x":-0.52,"v":30.2},{"g":"Cxm","x":-0.42,"v":32.6},{"g":"Cxm","x":-0.27,"v":35.6},{"g":"Cxm","x":-0.2,"v":31.4},{"g":"Cxm","x":-0.07,"v":31.9},{"g":"Cxm","x":0,"v":34.9},{"g":"Cxm","x":0.07,"v":50},{"g":"Cxm","x":0.15,"v":69.8},{"g":"Cxm","x":0.27,"v":70.5},{"g":"Cxm","x":0.37,"v":69.8},{"g":"Cxm","x":0.47,"v":62.8},{"g":"Cxm","x":0.57,"v":47.7},{"g":"Cxm","x":0.67,"v":44.2},{"g":"Cxm","x":0.75,"v":47.7},{"g":"Cxm","x":0.82,"v":44.9},{"g":"Cxm","x":0.92,"v":46.5},{"g":"Cxm","x":1,"v":36},{"g":"Cxm","x":1.1,"v":33.3},{"g":"Cxm","x":1.22,"v":34.9},{"g":"Cxm","x":1.37,"v":31.9},{"g":"Cxm","x":1.49,"v":31.9},
{"g":"mxC","x":-0.52,"v":29},{"g":"mxC","x":-0.42,"v":31.5},{"g":"mxC","x":-0.27,"v":34.5},{"g":"mxC","x":-0.2,"v":30.5},{"g":"mxC","x":-0.07,"v":30.8},{"g":"mxC","x":0,"v":33.8},{"g":"mxC","x":0.07,"v":49},{"g":"mxC","x":0.15,"v":68.8},{"g":"mxC","x":0.27,"v":70.2},{"g":"mxC","x":0.37,"v":69.8},{"g":"mxC","x":0.47,"v":61.5},{"g":"mxC","x":0.57,"v":48.5},{"g":"mxC","x":0.67,"v":45.5},{"g":"mxC","x":0.75,"v":48.5},{"g":"mxC","x":0.82,"v":46},{"g":"mxC","x":0.92,"v":47.5},{"g":"mxC","x":1,"v":35.5},{"g":"mxC","x":1.1,"v":32},{"g":"mxC","x":1.22,"v":34},{"g":"mxC","x":1.37,"v":31.5},{"g":"mxC","x":1.49,"v":31.5}
    ]},
    "mark":{"type":"line","interpolate":"monotone","strokeWidth":1.1},
    "encoding":{
     "x":{"field":"x","type":"quantitative","scale":{"domain":[-0.53,1.49],"nice":false,"zero":false},"axis":null},
     "y":{"field":"v","type":"quantitative","scale":{"domain":[0,100],"nice":false},"axis":{"values":[0,100],"domain":false,"ticks":true,"tickSize":3,"tickColor":"#333","grid":false,"labelFontSize":12,"labelPadding":2,"labelFlush":false,"labelOverlap":false,"title":null}},
     "color":{"field":"g","type":"nominal","legend":null,"scale":{"domain":["Col","met1","rF1","Cxm","mxC"],"range":["#111111","#d8302a","#55a844","#4349a3","#a955b0"]}}}},
    {"data":{"values":[{"x":0,"x2":1,"t":"el"},{"x":0.07,"x2":0.51,"t":"orf"},{"x":0.6,"x2":0.87,"t":"orf"}]},"transform":[{"filter":"datum.t=='el'"}],"mark":{"type":"rect","color":"#000"},"encoding":{"x":{"field":"x","type":"quantitative","axis":null},"x2":{"field":"x2"},"y":{"datum":-3.5},"y2":{"datum":0}}},
    {"data":{"values":[{"x":0,"x2":1,"t":"el"},{"x":0.07,"x2":0.51,"t":"orf"},{"x":0.6,"x2":0.87,"t":"orf"}]},"transform":[{"filter":"datum.t=='orf'"}],"mark":{"type":"rect","color":"#f2e21a"},"encoding":{"x":{"field":"x","type":"quantitative","axis":null},"x2":{"field":"x2"},"y":{"datum":-2.8},"y2":{"datum":-0.7}}}
   ]}
 ],"spacing":29,"bounds":"flush"},
 {"hconcat":[
  {"width":138,"height":141,
   "layer":[
    {"data":{"values":[{"b":0},{"b":1}]},"mark":{"type":"rule","color":"#999","strokeDash":[4,3],"strokeWidth":0.8},"encoding":{"x":{"field":"b","type":"quantitative","axis":null}}},
    {"data":{"values":[
{"g":"Col","x":-0.52,"v":34.5},{"g":"Col","x":-0.34,"v":36.5},{"g":"Col","x":-0.2,"v":40.4},{"g":"Col","x":-0.05,"v":43.5},{"g":"Col","x":0.07,"v":49.6},{"g":"Col","x":0.2,"v":53.9},{"g":"Col","x":0.3,"v":50.1},{"g":"Col","x":0.44,"v":50.8},{"g":"Col","x":0.59,"v":51.5},{"g":"Col","x":0.74,"v":51.2},{"g":"Col","x":0.91,"v":51.5},{"g":"Col","x":0.99,"v":48.8},{"g":"Col","x":1.08,"v":41.1},{"g":"Col","x":1.23,"v":35.3},{"g":"Col","x":1.38,"v":35.7},{"g":"Col","x":1.49,"v":35},
{"g":"met1","x":-0.52,"v":35},{"g":"met1","x":-0.34,"v":36.5},{"g":"met1","x":-0.05,"v":43.5},{"g":"met1","x":0.07,"v":52.7},{"g":"met1","x":0.2,"v":61.5},{"g":"met1","x":0.3,"v":57.6},{"g":"met1","x":0.44,"v":53},{"g":"met1","x":0.64,"v":59.2},{"g":"met1","x":0.79,"v":55.8},{"g":"met1","x":0.94,"v":52.7},{"g":"met1","x":1.01,"v":47.3},{"g":"met1","x":1.13,"v":38.8},{"g":"met1","x":1.26,"v":35},{"g":"met1","x":1.49,"v":34.2},
{"g":"rF1","x":-0.52,"v":34.5},{"g":"rF1","x":-0.05,"v":43.5},{"g":"rF1","x":0.07,"v":51.2},{"g":"rF1","x":0.2,"v":58.1},{"g":"rF1","x":0.32,"v":54.2},{"g":"rF1","x":0.44,"v":51.9},{"g":"rF1","x":0.64,"v":55.5},{"g":"rF1","x":0.79,"v":54.2},{"g":"rF1","x":0.94,"v":52.7},{"g":"rF1","x":1.01,"v":47.3},{"g":"rF1","x":1.13,"v":38.8},{"g":"rF1","x":1.26,"v":35},{"g":"rF1","x":1.49,"v":33.9},
{"g":"Cxm","x":-0.52,"v":33.4},{"g":"Cxm","x":-0.34,"v":36.5},{"g":"Cxm","x":-0.05,"v":43},{"g":"Cxm","x":0.07,"v":50.4},{"g":"Cxm","x":0.2,"v":54.2},{"g":"Cxm","x":0.32,"v":50.4},{"g":"Cxm","x":0.44,"v":45},{"g":"Cxm","x":0.59,"v":42.7},{"g":"Cxm","x":0.74,"v":43.5},{"g":"Cxm","x":0.89,"v":45},{"g":"Cxm","x":0.99,"v":45.8},{"g":"Cxm","x":1.08,"v":40.4},{"g":"Cxm","x":1.23,"v":31.9},{"g":"Cxm","x":1.38,"v":33.4},{"g":"Cxm","x":1.49,"v":32.2},
{"g":"mxC","x":-0.52,"v":33},{"g":"mxC","x":-0.34,"v":36.2},{"g":"mxC","x":-0.05,"v":42.7},{"g":"mxC","x":0.07,"v":49.9},{"g":"mxC","x":0.2,"v":53.8},{"g":"mxC","x":0.32,"v":50.8},{"g":"mxC","x":0.44,"v":45.8},{"g":"mxC","x":0.59,"v":43.5},{"g":"mxC","x":0.74,"v":44.2},{"g":"mxC","x":0.89,"v":45.8},{"g":"mxC","x":0.99,"v":46.5},{"g":"mxC","x":1.08,"v":40.7},{"g":"mxC","x":1.23,"v":32.7},{"g":"mxC","x":1.38,"v":32.7},{"g":"mxC","x":1.49,"v":31.4}
    ]},
    "mark":{"type":"line","interpolate":"monotone","strokeWidth":1.1},
    "encoding":{
     "x":{"field":"x","type":"quantitative","scale":{"domain":[-0.53,1.5],"nice":false,"zero":false},"axis":null},
     "y":{"field":"v","type":"quantitative","scale":{"domain":[0,65],"nice":false},"axis":{"values":[0,65],"domain":false,"ticks":true,"tickSize":3,"tickColor":"#333","grid":false,"labelFontSize":12,"labelPadding":2,"labelFlush":false,"labelOverlap":false,"title":"CHG methylation (%)","titleFontSize":11,"titleFontWeight":"normal","titlePadding":6}},
     "color":{"field":"g","type":"nominal","legend":null,"scale":{"domain":["Col","met1","rF1","Cxm","mxC"],"range":["#111111","#d8302a","#55a844","#4349a3","#a955b0"]}}}},
    {"data":{"values":[{"x":0,"x2":1,"t":"el"},{"x":0.17,"x2":0.39,"t":"orf"},{"x":0.54,"x2":0.68,"t":"orf"}]},"transform":[{"filter":"datum.t=='el'"}],"mark":{"type":"rect","color":"#000"},"encoding":{"x":{"field":"x","type":"quantitative","axis":null},"x2":{"field":"x2"},"y":{"datum":-2.3},"y2":{"datum":0}}},
    {"data":{"values":[{"x":0,"x2":1,"t":"el"},{"x":0.17,"x2":0.39,"t":"orf"},{"x":0.54,"x2":0.68,"t":"orf"}]},"transform":[{"filter":"datum.t=='orf'"}],"mark":{"type":"rect","color":"#f2e21a"},"encoding":{"x":{"field":"x","type":"quantitative","axis":null},"x2":{"field":"x2"},"y":{"datum":-1.8},"y2":{"datum":-0.5}}}
   ]},
  {"width":137,"height":141,
   "layer":[
    {"data":{"values":[{"b":0},{"b":1}]},"mark":{"type":"rule","color":"#999","strokeDash":[4,3],"strokeWidth":0.8},"encoding":{"x":{"field":"b","type":"quantitative","axis":null}}},
    {"data":{"values":[
{"g":"Col","x":-0.5,"v":14.5},{"g":"Col","x":-0.37,"v":17.4},{"g":"Col","x":-0.24,"v":18.1},{"g":"Col","x":-0.15,"v":22.3},{"g":"Col","x":-0.05,"v":19.5},{"g":"Col","x":0,"v":23},{"g":"Col","x":0.07,"v":30.2},{"g":"Col","x":0.2,"v":41.5},{"g":"Col","x":0.34,"v":43},{"g":"Col","x":0.49,"v":37.3},{"g":"Col","x":0.59,"v":39.4},{"g":"Col","x":0.68,"v":40.8},{"g":"Col","x":0.83,"v":38},{"g":"Col","x":0.93,"v":32.3},{"g":"Col","x":1,"v":26.6},{"g":"Col","x":1.1,"v":23.3},{"g":"Col","x":1.27,"v":23},{"g":"Col","x":1.39,"v":23.8},{"g":"Col","x":1.49,"v":26.6},
{"g":"met1","x":-0.5,"v":15.9},{"g":"met1","x":-0.29,"v":20.9},{"g":"met1","x":-0.15,"v":22.3},{"g":"met1","x":-0.05,"v":18.8},{"g":"met1","x":0.02,"v":8.1},{"g":"met1","x":0.1,"v":18.8},{"g":"met1","x":0.2,"v":46.5},{"g":"met1","x":0.29,"v":50.8},{"g":"met1","x":0.44,"v":51.5},{"g":"met1","x":0.49,"v":43},{"g":"met1","x":0.59,"v":31.6},{"g":"met1","x":0.65,"v":23},{"g":"met1","x":0.73,"v":25.9},{"g":"met1","x":0.83,"v":18.8},{"g":"met1","x":0.95,"v":11},{"g":"met1","x":1,"v":13.1},{"g":"met1","x":1.1,"v":17.4},{"g":"met1","x":1.22,"v":18.1},{"g":"met1","x":1.34,"v":15.2},{"g":"met1","x":1.49,"v":21.6},
{"g":"rF1","x":-0.5,"v":15.2},{"g":"rF1","x":-0.24,"v":19.5},{"g":"rF1","x":-0.05,"v":17.4},{"g":"rF1","x":0,"v":16.6},{"g":"rF1","x":0.1,"v":25.9},{"g":"rF1","x":0.2,"v":44.4},{"g":"rF1","x":0.29,"v":46.5},{"g":"rF1","x":0.44,"v":45.1},{"g":"rF1","x":0.54,"v":37.3},{"g":"rF1","x":0.63,"v":32.3},{"g":"rF1","x":0.78,"v":30.9},{"g":"rF1","x":0.88,"v":27.3},{"g":"rF1","x":1,"v":22.3},{"g":"rF1","x":1.22,"v":20.2},{"g":"rF1","x":1.34,"v":19.5},{"g":"rF1","x":1.49,"v":22.3},
{"g":"Cxm","x":-0.5,"v":15.9},{"g":"Cxm","x":-0.24,"v":20.2},{"g":"Cxm","x":-0.05,"v":18.1},{"g":"Cxm","x":0.07,"v":27.3},{"g":"Cxm","x":0.15,"v":40.1},{"g":"Cxm","x":0.2,"v":52.9},{"g":"Cxm","x":0.29,"v":52.2},{"g":"Cxm","x":0.44,"v":50.1},{"g":"Cxm","x":0.49,"v":43.7},{"g":"Cxm","x":0.59,"v":34.4},{"g":"Cxm","x":0.68,"v":32.3},{"g":"Cxm","x":0.83,"v":28.7},{"g":"Cxm","x":0.98,"v":24.5},{"g":"Cxm","x":1.05,"v":17.4},{"g":"Cxm","x":1.15,"v":21.6},{"g":"Cxm","x":1.27,"v":18.8},{"g":"Cxm","x":1.39,"v":23},{"g":"Cxm","x":1.49,"v":20.9},
{"g":"mxC","x":-0.5,"v":15.5},{"g":"mxC","x":-0.24,"v":19.9},{"g":"mxC","x":-0.05,"v":18.5},{"g":"mxC","x":0.07,"v":26.6},{"g":"mxC","x":0.15,"v":39.4},{"g":"mxC","x":0.2,"v":52.2},{"g":"mxC","x":0.29,"v":51.8},{"g":"mxC","x":0.44,"v":50.8},{"g":"mxC","x":0.49,"v":45.1},{"g":"mxC","x":0.59,"v":35.1},{"g":"mxC","x":0.68,"v":32.7},{"g":"mxC","x":0.83,"v":29.4},{"g":"mxC","x":0.98,"v":23},{"g":"mxC","x":1.05,"v":18.8},{"g":"mxC","x":1.15,"v":20.9},{"g":"mxC","x":1.27,"v":20.2},{"g":"mxC","x":1.39,"v":21.6},{"g":"mxC","x":1.49,"v":20.2}
    ]},
    "mark":{"type":"line","interpolate":"monotone","strokeWidth":1.1},
    "encoding":{
     "x":{"field":"x","type":"quantitative","scale":{"domain":[-0.53,1.49],"nice":false,"zero":false},"axis":null},
     "y":{"field":"v","type":"quantitative","scale":{"domain":[0,60],"nice":false},"axis":{"values":[0,60],"domain":false,"ticks":true,"tickSize":3,"tickColor":"#333","grid":false,"labelFontSize":12,"labelPadding":2,"labelFlush":false,"labelOverlap":false,"title":null}},
     "color":{"field":"g","type":"nominal","legend":null,"scale":{"domain":["Col","met1","rF1","Cxm","mxC"],"range":["#111111","#d8302a","#55a844","#4349a3","#a955b0"]}}}},
    {"data":{"values":[{"x":0,"x2":1,"t":"el"},{"x":0.07,"x2":0.51,"t":"orf"},{"x":0.6,"x2":0.87,"t":"orf"}]},"transform":[{"filter":"datum.t=='el'"}],"mark":{"type":"rect","color":"#000"},"encoding":{"x":{"field":"x","type":"quantitative","axis":null},"x2":{"field":"x2"},"y":{"datum":-2.1},"y2":{"datum":0}}},
    {"data":{"values":[{"x":0,"x2":1,"t":"el"},{"x":0.07,"x2":0.51,"t":"orf"},{"x":0.6,"x2":0.87,"t":"orf"}]},"transform":[{"filter":"datum.t=='orf'"}],"mark":{"type":"rect","color":"#f2e21a"},"encoding":{"x":{"field":"x","type":"quantitative","axis":null},"x2":{"field":"x2"},"y":{"datum":-1.7},"y2":{"datum":-0.4}}}
   ]}
 ],"spacing":29,"bounds":"flush"},
 {"hconcat":[
  {"width":138,"height":142,
   "layer":[
    {"data":{"values":[{"b":0},{"b":1}]},"mark":{"type":"rule","color":"#999","strokeDash":[4,3],"strokeWidth":0.8},"encoding":{"x":{"field":"b","type":"quantitative"}}},
    {"data":{"values":[
{"g":"Col","x":-0.525,"v":14.3},{"g":"Col","x":-0.375,"v":14.9},{"g":"Col","x":-0.225,"v":15.5},{"g":"Col","x":-0.075,"v":15.6},{"g":"Col","x":0.1,"v":16.3},{"g":"Col","x":0.2,"v":16.2},{"g":"Col","x":0.325,"v":16},{"g":"Col","x":0.475,"v":15.9},{"g":"Col","x":0.65,"v":15.1},{"g":"Col","x":0.775,"v":15.2},{"g":"Col","x":0.9,"v":15.6},{"g":"Col","x":1,"v":14.8},{"g":"Col","x":1.125,"v":14},{"g":"Col","x":1.25,"v":14},{"g":"Col","x":1.375,"v":13.9},{"g":"Col","x":1.49,"v":14.6},
{"g":"met1","x":-0.525,"v":14.9},{"g":"met1","x":-0.375,"v":16.1},{"g":"met1","x":-0.225,"v":16.8},{"g":"met1","x":-0.1,"v":16.1},{"g":"met1","x":0,"v":16.3},{"g":"met1","x":0.15,"v":18.2},{"g":"met1","x":0.225,"v":18.4},{"g":"met1","x":0.325,"v":16.1},{"g":"met1","x":0.475,"v":12.6},{"g":"met1","x":0.575,"v":10.8},{"g":"met1","x":0.7,"v":10.4},{"g":"met1","x":0.85,"v":11.8},{"g":"met1","x":0.975,"v":12.9},{"g":"met1","x":1.075,"v":11.8},{"g":"met1","x":1.225,"v":10.6},{"g":"met1","x":1.375,"v":9.9},{"g":"met1","x":1.49,"v":10.6},
{"g":"rF1","x":-0.525,"v":14.1},{"g":"rF1","x":-0.375,"v":15.2},{"g":"rF1","x":-0.2,"v":15.9},{"g":"rF1","x":-0.025,"v":15.9},{"g":"rF1","x":0.2,"v":17.3},{"g":"rF1","x":0.3,"v":16.5},{"g":"rF1","x":0.475,"v":14},{"g":"rF1","x":0.625,"v":12.7},{"g":"rF1","x":0.775,"v":12.9},{"g":"rF1","x":0.925,"v":14.3},{"g":"rF1","x":1.025,"v":13.8},{"g":"rF1","x":1.175,"v":12.7},{"g":"rF1","x":1.325,"v":12.2},{"g":"rF1","x":1.49,"v":12.9},
{"g":"Cxm","x":-0.525,"v":14},{"g":"Cxm","x":-0.375,"v":15.9},{"g":"Cxm","x":-0.225,"v":17.5},{"g":"Cxm","x":-0.075,"v":16.6},{"g":"Cxm","x":0.05,"v":16.8},{"g":"Cxm","x":0.175,"v":17.2},{"g":"Cxm","x":0.325,"v":15.7},{"g":"Cxm","x":0.475,"v":12.9},{"g":"Cxm","x":0.575,"v":11.5},{"g":"Cxm","x":0.7,"v":11.5},{"g":"Cxm","x":0.85,"v":13.3},{"g":"Cxm","x":0.95,"v":14.7},{"g":"Cxm","x":1.075,"v":14},{"g":"Cxm","x":1.225,"v":13.4},{"g":"Cxm","x":1.375,"v":13.6},{"g":"Cxm","x":1.49,"v":13.6},
{"g":"mxC","x":-0.525,"v":14.1},{"g":"mxC","x":-0.375,"v":15.7},{"g":"mxC","x":-0.225,"v":17},{"g":"mxC","x":-0.075,"v":16.5},{"g":"mxC","x":0.05,"v":16.6},{"g":"mxC","x":0.175,"v":17},{"g":"mxC","x":0.325,"v":15.9},{"g":"mxC","x":0.475,"v":13.3},{"g":"mxC","x":0.575,"v":11.8},{"g":"mxC","x":0.7,"v":11.7},{"g":"mxC","x":0.85,"v":13.4},{"g":"mxC","x":0.95,"v":14.9},{"g":"mxC","x":1.075,"v":14.3},{"g":"mxC","x":1.225,"v":13.6},{"g":"mxC","x":1.375,"v":13.3},{"g":"mxC","x":1.49,"v":13.8}
    ]},
    "mark":{"type":"line","interpolate":"monotone","strokeWidth":1.1},
    "encoding":{
     "x":{"field":"x","type":"quantitative","scale":{"domain":[-0.53,1.5],"nice":false,"zero":false},"axis":{"values":[-0.35,1.32],"labelExpr":"datum.value<0?'-1kb':'+1kb'","domain":false,"ticks":false,"grid":false,"labelFontSize":12,"labelPadding":-3,"labelFlush":false,"labelOverlap":false,"title":"ATHILA6A","titleFontSize":12,"titleFontWeight":"normal","titlePadding":2}},
     "y":{"field":"v","type":"quantitative","scale":{"domain":[5,20],"nice":false,"zero":false},"axis":{"values":[5,20],"domain":false,"ticks":true,"tickSize":3,"tickColor":"#333","grid":false,"labelFontSize":12,"labelPadding":2,"labelFlush":false,"labelOverlap":false,"title":"CHH methylation (%)","titleFontSize":11,"titleFontWeight":"normal","titlePadding":6}},
     "color":{"field":"g","type":"nominal","legend":null,"scale":{"domain":["Col","met1","rF1","Cxm","mxC"],"range":["#111111","#d8302a","#55a844","#4349a3","#a955b0"]}}}},
    {"data":{"values":[{"x":0,"x2":1,"t":"el"},{"x":0.17,"x2":0.39,"t":"orf"},{"x":0.54,"x2":0.68,"t":"orf"}]},"transform":[{"filter":"datum.t=='el'"}],"mark":{"type":"rect","color":"#000"},"encoding":{"x":{"field":"x","type":"quantitative"},"x2":{"field":"x2"},"y":{"datum":4.4},"y2":{"datum":5}}},
    {"data":{"values":[{"x":0,"x2":1,"t":"el"},{"x":0.17,"x2":0.39,"t":"orf"},{"x":0.54,"x2":0.68,"t":"orf"}]},"transform":[{"filter":"datum.t=='orf'"}],"mark":{"type":"rect","color":"#f2e21a"},"encoding":{"x":{"field":"x","type":"quantitative"},"x2":{"field":"x2"},"y":{"datum":4.5},"y2":{"datum":4.88}}}
   ]},
  {"width":137,"height":142,
   "layer":[
    {"data":{"values":[{"b":0},{"b":1}]},"mark":{"type":"rule","color":"#999","strokeDash":[4,3],"strokeWidth":0.8},"encoding":{"x":{"field":"b","type":"quantitative"}}},
    {"data":{"values":[
{"g":"Col","x":-0.525,"v":7.6},{"g":"Col","x":-0.4,"v":6.9},{"g":"Col","x":-0.275,"v":6.3},{"g":"Col","x":-0.15,"v":8},{"g":"Col","x":-0.05,"v":8},{"g":"Col","x":0.01,"v":11.8},{"g":"Col","x":0.05,"v":13.7},{"g":"Col","x":0.15,"v":13.1},{"g":"Col","x":0.3,"v":12.3},{"g":"Col","x":0.45,"v":11.4},{"g":"Col","x":0.6,"v":12.9},{"g":"Col","x":0.75,"v":15},{"g":"Col","x":0.825,"v":13.1},{"g":"Col","x":0.915,"v":14},{"g":"Col","x":0.975,"v":12.3},{"g":"Col","x":1.075,"v":9.9},{"g":"Col","x":1.225,"v":8.2},{"g":"Col","x":1.275,"v":7.8},{"g":"Col","x":1.375,"v":9.3},{"g":"Col","x":1.475,"v":9.1},
{"g":"met1","x":-0.525,"v":5.9},{"g":"met1","x":-0.4,"v":4.8},{"g":"met1","x":-0.3,"v":3.7},{"g":"met1","x":-0.2,"v":5.2},{"g":"met1","x":-0.1,"v":4.2},{"g":"met1","x":0,"v":4},{"g":"met1","x":0.075,"v":9.9},{"g":"met1","x":0.175,"v":11},{"g":"met1","x":0.3,"v":11.6},{"g":"met1","x":0.4,"v":12},{"g":"met1","x":0.45,"v":11.6},{"g":"met1","x":0.525,"v":9.5},{"g":"met1","x":0.65,"v":6.7},{"g":"met1","x":0.75,"v":4.8},{"g":"met1","x":0.85,"v":2.9},{"g":"met1","x":1,"v":2.7},{"g":"met1","x":1.075,"v":3.1},{"g":"met1","x":1.225,"v":1.8},{"g":"met1","x":1.35,"v":2.7},{"g":"met1","x":1.475,"v":4},
{"g":"rF1","x":-0.525,"v":6.3},{"g":"rF1","x":-0.35,"v":5.4},{"g":"rF1","x":-0.25,"v":5},{"g":"rF1","x":-0.1,"v":6.7},{"g":"rF1","x":0,"v":8.6},{"g":"rF1","x":0.1,"v":11.4},{"g":"rF1","x":0.25,"v":11.6},{"g":"rF1","x":0.4,"v":12.3},{"g":"rF1","x":0.5,"v":10.1},{"g":"rF1","x":0.6,"v":8.9},{"g":"rF1","x":0.8,"v":8.2},{"g":"rF1","x":0.95,"v":7.1},{"g":"rF1","x":1.05,"v":6.3},{"g":"rF1","x":1.225,"v":4.8},{"g":"rF1","x":1.35,"v":5.9},{"g":"rF1","x":1.475,"v":5.7},
{"g":"Cxm","x":-0.525,"v":7.8},{"g":"Cxm","x":-0.4,"v":6.7},{"g":"Cxm","x":-0.275,"v":5.2},{"g":"Cxm","x":-0.15,"v":6.7},{"g":"Cxm","x":0,"v":8.6},{"g":"Cxm","x":0.075,"v":13.5},{"g":"Cxm","x":0.175,"v":16.3},{"g":"Cxm","x":0.3,"v":15.2},{"g":"Cxm","x":0.45,"v":14.2},{"g":"Cxm","x":0.55,"v":13.3},{"g":"Cxm","x":0.7,"v":10.3},{"g":"Cxm","x":0.8,"v":9.3},{"g":"Cxm","x":0.925,"v":9.1},{"g":"Cxm","x":0.975,"v":7.4},{"g":"Cxm","x":1.05,"v":7.1},{"g":"Cxm","x":1.225,"v":4.8},{"g":"Cxm","x":1.35,"v":7.1},{"g":"Cxm","x":1.475,"v":6.3},
{"g":"mxC","x":-0.525,"v":7.1},{"g":"mxC","x":-0.4,"v":6.4},{"g":"mxC","x":-0.275,"v":5},{"g":"mxC","x":-0.15,"v":6.5},{"g":"mxC","x":0,"v":8.4},{"g":"mxC","x":0.075,"v":13.3},{"g":"mxC","x":0.175,"v":16.1},{"g":"mxC","x":0.3,"v":15.4},{"g":"mxC","x":0.45,"v":14.6},{"g":"mxC","x":0.55,"v":13.5},{"g":"mxC","x":0.7,"v":10.8},{"g":"mxC","x":0.8,"v":9.3},{"g":"mxC","x":0.925,"v":9.1},{"g":"mxC","x":0.975,"v":7.6},{"g":"mxC","x":1.05,"v":6.5},{"g":"mxC","x":1.225,"v":4.8},{"g":"mxC","x":1.35,"v":6.9},{"g":"mxC","x":1.475,"v":5.9}
    ]},
    "mark":{"type":"line","interpolate":"monotone","strokeWidth":1.1},
    "encoding":{
     "x":{"field":"x","type":"quantitative","scale":{"domain":[-0.53,1.49],"nice":false,"zero":false},"axis":{"values":[-0.19,1.38],"labelExpr":"datum.value<0?'-1kb':'+1kb'","domain":false,"ticks":false,"grid":false,"labelFontSize":12,"labelPadding":-3,"labelFlush":false,"labelOverlap":false,"title":"ATENSPM5","titleFontSize":12,"titleFontWeight":"normal","titlePadding":2}},
     "y":{"field":"v","type":"quantitative","scale":{"domain":[0,18],"nice":false},"axis":{"values":[0,18],"domain":false,"ticks":true,"tickSize":3,"tickColor":"#333","grid":false,"labelFontSize":12,"labelPadding":2,"labelFlush":false,"labelOverlap":false,"title":null}},
     "color":{"field":"g","type":"nominal","legend":null,"scale":{"domain":["Col","met1","rF1","Cxm","mxC"],"range":["#111111","#d8302a","#55a844","#4349a3","#a955b0"]}}}},
    {"data":{"values":[{"x":0,"x2":1,"t":"el"},{"x":0.07,"x2":0.51,"t":"orf"},{"x":0.6,"x2":0.87,"t":"orf"}]},"transform":[{"filter":"datum.t=='el'"}],"mark":{"type":"rect","color":"#000"},"encoding":{"x":{"field":"x","type":"quantitative"},"x2":{"field":"x2"},"y":{"datum":-0.75},"y2":{"datum":0}}},
    {"data":{"values":[{"x":0,"x2":1,"t":"el"},{"x":0.07,"x2":0.51,"t":"orf"},{"x":0.6,"x2":0.87,"t":"orf"}]},"transform":[{"filter":"datum.t=='orf'"}],"mark":{"type":"rect","color":"#f2e21a"},"encoding":{"x":{"field":"x","type":"quantitative"},"x2":{"field":"x2"},"y":{"datum":-0.6},"y2":{"datum":-0.15}}}
   ]}
 ],"spacing":29,"bounds":"flush"}
],"spacing":6}
]
}
